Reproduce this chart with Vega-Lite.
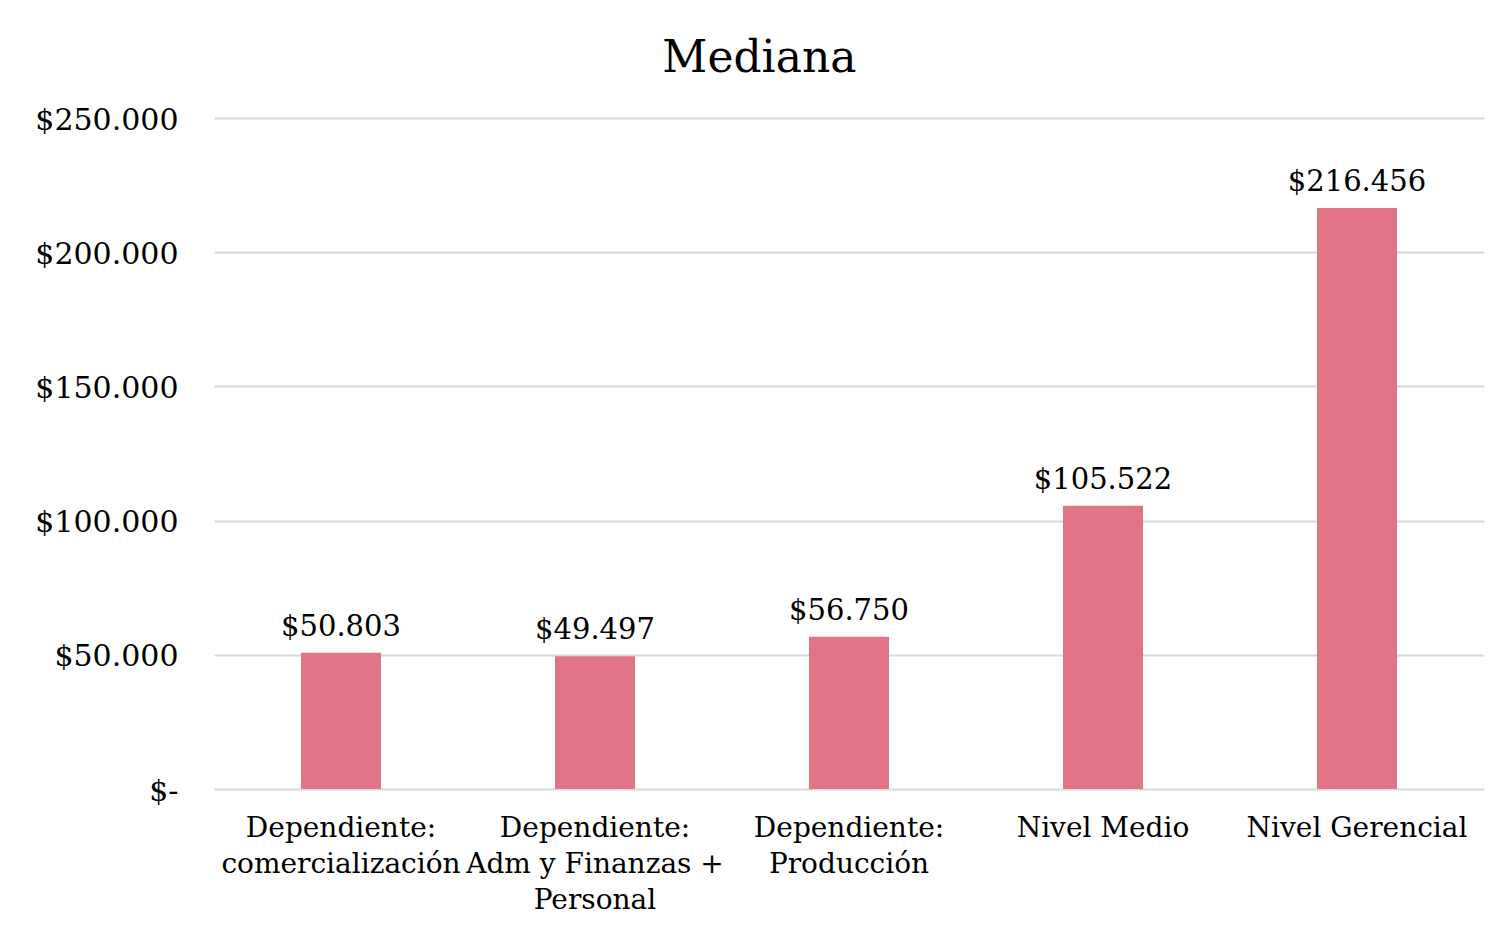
{
  "$schema": "https://vega.github.io/schema/vega-lite/v6.json",
  "width": 1270,
  "height": 671,
  "autosize": "none",
  "padding": {"left": 214, "top": 118, "right": 20, "bottom": 139},
  "background": "white",
  "config": {
    "locale": {"number": {"decimal": ",", "thousands": ".", "grouping": [3], "currency": ["$", ""]}},
    "font": "DejaVu Serif",
    "view": {"stroke": null}
  },
  "title": {
    "text": "Mediana",
    "font": "DejaVu Serif",
    "fontSize": 44,
    "fontWeight": "normal",
    "color": "#000000",
    "anchor": "middle",
    "frame": "bounds",
    "offset": 24
  },
  "data": {
    "values": [
      {"categoria": "Dependiente:\ncomercialización", "mediana": 50803},
      {"categoria": "Dependiente:\nAdm y Finanzas +\nPersonal", "mediana": 49497},
      {"categoria": "Dependiente:\nProducción", "mediana": 56750},
      {"categoria": "Nivel Medio", "mediana": 105522},
      {"categoria": "Nivel Gerencial", "mediana": 216456}
    ]
  },
  "encoding": {
    "x": {
      "field": "categoria",
      "type": "nominal",
      "sort": null,
      "title": null,
      "scale": {"paddingInner": 0.685, "paddingOuter": 0.3425},
      "axis": {
        "labelAngle": 0,
        "labelFont": "DejaVu Serif",
        "labelFontSize": 28,
        "labelColor": "#000000",
        "labelLineHeight": 36,
        "labelPadding": 25,
        "labelExpr": "split(datum.label, '\\n')",
        "ticks": false,
        "domain": false,
        "grid": false,
        "labelLimit": 400
      }
    },
    "y": {
      "field": "mediana",
      "type": "quantitative",
      "title": null,
      "scale": {"domain": [0, 250000]},
      "axis": {
        "values": [0, 50000, 100000, 150000, 200000, 250000],
        "format": "$,.0f",
        "labelExpr": "datum.value == 0 ? '$-' : datum.label",
        "labelFont": "DejaVu Serif",
        "labelFontSize": 30,
        "labelColor": "#000000",
        "labelPadding": 36,
        "labelOffset": 2,
        "ticks": false,
        "domain": false,
        "grid": true,
        "gridColor": "#d9d9d9",
        "gridWidth": 2
      }
    }
  },
  "layer": [
    {"mark": {"type": "bar", "color": "#E17587"}},
    {
      "mark": {"type": "text", "dy": -11, "fontSize": 29, "font": "DejaVu Serif", "color": "#000000", "baseline": "bottom"},
      "encoding": {"text": {"field": "mediana", "type": "quantitative", "format": "$,.0f"}}
    }
  ]
}
